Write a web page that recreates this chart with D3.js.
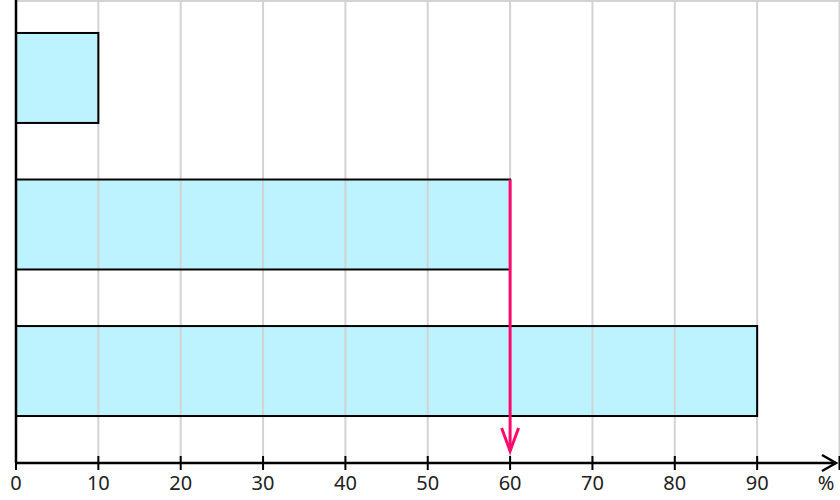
<!DOCTYPE html>
<html><head><meta charset="utf-8">
<script src="https://cdn.jsdelivr.net/npm/d3@7"></script>
<style>body{margin:0;background:#fff}svg{display:block}</style>
</head><body>
<svg id="c" width="840" height="500"></svg>
<script>
const categories = ["A", "B", "C"];
const values = [10, 60, 90];
const tickValues = [0, 10, 20, 30, 40, 50, 60, 70, 80, 90];
const gridValues = [10, 20, 30, 40, 50, 60, 70, 80, 90, 100];
const markerValue = 60;
const markerCategory = "B";
const unitLabel = "%";

const svg = d3.select("#c");
const x = d3.scaleLinear().domain([0, 100]).range([16, 839.5]);
const y = d3.scaleBand().domain(categories).range([0, 449]).paddingInner(0.386).paddingOuter(0.225);
const axisY = 463;

// bar fills
svg.selectAll("rect.fill").data(values).join("rect")
  .attr("x", x(0)).attr("y", (d, i) => y(categories[i]))
  .attr("width", d => x(d) - x(0)).attr("height", y.bandwidth())
  .attr("fill", "#bdf2ff");

// grid
svg.selectAll("line.grid").data(gridValues).join("line")
  .attr("x1", d => x(d)).attr("x2", d => x(d)).attr("y1", 1).attr("y2", axisY)
  .attr("stroke", "#d3d3d3").attr("stroke-width", 2);
svg.append("line").attr("x1", x(0)).attr("x2", 840).attr("y1", 1).attr("y2", 1)
  .attr("stroke", "#d3d3d3").attr("stroke-width", 2);

// bar outlines
svg.selectAll("rect.out").data(values).join("rect")
  .attr("x", x(0)).attr("y", (d, i) => y(categories[i]))
  .attr("width", d => x(d) - x(0)).attr("height", y.bandwidth())
  .attr("fill", "none").attr("stroke", "#000").attr("stroke-width", 2);

// y axis line
svg.append("line").attr("x1", x(0)).attr("x2", x(0)).attr("y1", 0).attr("y2", axisY)
  .attr("stroke", "#000").attr("stroke-width", 2.5);

// x axis
svg.append("line").attr("x1", x(0)).attr("x2", 836).attr("y1", axisY).attr("y2", axisY)
  .attr("stroke", "#000").attr("stroke-width", 2.5);
svg.append("path").attr("d", `M822,${axisY-8}L836,${axisY}L822,${axisY+8}`)
  .attr("fill", "none").attr("stroke", "#000").attr("stroke-width", 2.5);
svg.selectAll("line.tick").data(tickValues.concat([100])).join("line")
  .attr("x1", d => x(d)).attr("x2", d => x(d))
  .attr("y1", d => d === 0 ? axisY : axisY - 7).attr("y2", axisY + 7)
  .attr("stroke", "#000").attr("stroke-width", 2);
svg.selectAll("text.tl").data(tickValues).join("text")
  .attr("x", d => x(d)).attr("y", 490).attr("text-anchor", "middle")
  .attr("font-family", "Noto Sans, Open Sans, sans-serif").attr("font-size", 20).attr("fill", "#222")
  .text(d => d);
svg.append("text").attr("x", 826).attr("y", 490).attr("text-anchor", "middle")
  .attr("font-family", "Noto Sans, Open Sans, sans-serif").attr("font-size", 20).attr("fill", "#222")
  .text(unitLabel);

// marker arrow
const mx = x(markerValue);
svg.append("line").attr("x1", mx).attr("x2", mx).attr("y1", y(markerCategory)).attr("y2", 451)
  .attr("stroke", "#ff0a6c").attr("stroke-width", 3);
svg.append("path").attr("d", `M502,428L${mx},451L519,428`.replace("502", mx - 8.5).replace("519", mx + 8.5))
  .attr("fill", "none").attr("stroke", "#ff0a6c").attr("stroke-width", 3);
</script>
</body></html>
